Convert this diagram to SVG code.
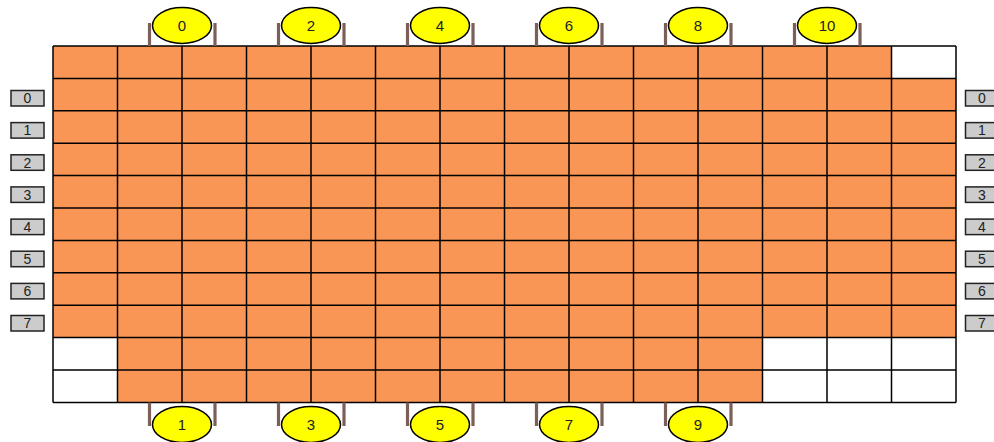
<svg xmlns="http://www.w3.org/2000/svg" width="994" height="442" viewBox="0 0 994 442">
<style>
.grid{stroke:#000;stroke-width:1.5;fill:none}
.seat{fill:#ffff00;stroke:#000;stroke-width:1.5}
.leg{stroke:#7d5f5a;stroke-width:3.2;fill:none}
.lbl{fill:#cccccc;stroke:#222;stroke-width:1.5}
text{font-family:"Liberation Sans",Arial,sans-serif;text-anchor:middle;fill:#222}
.st{font-size:15px}
.lt{font-size:14px}
</style>
<rect width="994" height="442" fill="#fff"/>
<g id="table">
<rect x="53" y="46" width="903" height="356.4" fill="#f99656"/>
<rect x="891.5" y="46" width="64.5" height="32.4" fill="#fff"/>
<rect x="53" y="337.6" width="64.5" height="64.8" fill="#fff"/>
<rect x="762.5" y="337.6" width="193.5" height="64.8" fill="#fff"/>
<path class="grid" d="M53 46V402.4M117.5 46V402.4M182 46V402.4M246.5 46V402.4M311 46V402.4M375.5 46V402.4M440 46V402.4M504.5 46V402.4M569 46V402.4M633.5 46V402.4M698 46V402.4M762.5 46V402.4M827 46V402.4M891.5 46V402.4M956 46V402.4M53 46H956M53 78.4H956M53 110.8H956M53 143.2H956M53 175.6H956M53 208H956M53 240.4H956M53 272.8H956M53 305.2H956M53 337.6H956M53 370H956M53 402.4H956"/>
</g>
<g id="seat-0"><path class="leg" d="M149.5 23V46M215 23V46"/><ellipse class="seat" cx="182" cy="25.5" rx="29.5" ry="18"/><text class="st" x="182" y="31">0</text></g>
<g id="seat-2"><path class="leg" d="M278.5 23V46M344 23V46"/><ellipse class="seat" cx="311" cy="25.5" rx="29.5" ry="18"/><text class="st" x="311" y="31">2</text></g>
<g id="seat-4"><path class="leg" d="M407.5 23V46M473 23V46"/><ellipse class="seat" cx="440" cy="25.5" rx="29.5" ry="18"/><text class="st" x="440" y="31">4</text></g>
<g id="seat-6"><path class="leg" d="M536.5 23V46M602 23V46"/><ellipse class="seat" cx="569" cy="25.5" rx="29.5" ry="18"/><text class="st" x="569" y="31">6</text></g>
<g id="seat-8"><path class="leg" d="M665.5 23V46M731 23V46"/><ellipse class="seat" cx="698" cy="25.5" rx="29.5" ry="18"/><text class="st" x="698" y="31">8</text></g>
<g id="seat-10"><path class="leg" d="M794.5 23V46M860 23V46"/><ellipse class="seat" cx="827" cy="25.5" rx="29.5" ry="18"/><text class="st" x="827" y="31">10</text></g>
<g id="seat-1"><path class="leg" d="M149.5 402.4V426M215 402.4V426"/><ellipse class="seat" cx="182" cy="424.5" rx="29.5" ry="18"/><text class="st" x="182" y="430">1</text></g>
<g id="seat-3"><path class="leg" d="M278.5 402.4V426M344 402.4V426"/><ellipse class="seat" cx="311" cy="424.5" rx="29.5" ry="18"/><text class="st" x="311" y="430">3</text></g>
<g id="seat-5"><path class="leg" d="M407.5 402.4V426M473 402.4V426"/><ellipse class="seat" cx="440" cy="424.5" rx="29.5" ry="18"/><text class="st" x="440" y="430">5</text></g>
<g id="seat-7"><path class="leg" d="M536.5 402.4V426M602 402.4V426"/><ellipse class="seat" cx="569" cy="424.5" rx="29.5" ry="18"/><text class="st" x="569" y="430">7</text></g>
<g id="seat-9"><path class="leg" d="M665.5 402.4V426M731 402.4V426"/><ellipse class="seat" cx="698" cy="424.5" rx="29.5" ry="18"/><text class="st" x="698" y="430">9</text></g>
<g id="left-0"><rect class="lbl" x="11" y="90.5" width="33" height="15.5"/><text class="lt" x="27.5" y="103.3">0</text></g>
<g id="left-1"><rect class="lbl" x="11" y="122.6" width="33" height="15.5"/><text class="lt" x="27.5" y="135.4">1</text></g>
<g id="left-2"><rect class="lbl" x="11" y="154.8" width="33" height="15.5"/><text class="lt" x="27.5" y="167.6">2</text></g>
<g id="left-3"><rect class="lbl" x="11" y="186.9" width="33" height="15.5"/><text class="lt" x="27.5" y="199.7">3</text></g>
<g id="left-4"><rect class="lbl" x="11" y="219.1" width="33" height="15.5"/><text class="lt" x="27.5" y="231.9">4</text></g>
<g id="left-5"><rect class="lbl" x="11" y="251.2" width="33" height="15.5"/><text class="lt" x="27.5" y="264">5</text></g>
<g id="left-6"><rect class="lbl" x="11" y="283.4" width="33" height="15.5"/><text class="lt" x="27.5" y="296.2">6</text></g>
<g id="left-7"><rect class="lbl" x="11" y="315.5" width="33" height="15.5"/><text class="lt" x="27.5" y="328.3">7</text></g>
<g id="right-0"><rect class="lbl" x="965.5" y="90.5" width="33" height="15.5"/><text class="lt" x="982" y="103.3">0</text></g>
<g id="right-1"><rect class="lbl" x="965.5" y="122.6" width="33" height="15.5"/><text class="lt" x="982" y="135.4">1</text></g>
<g id="right-2"><rect class="lbl" x="965.5" y="154.8" width="33" height="15.5"/><text class="lt" x="982" y="167.6">2</text></g>
<g id="right-3"><rect class="lbl" x="965.5" y="186.9" width="33" height="15.5"/><text class="lt" x="982" y="199.7">3</text></g>
<g id="right-4"><rect class="lbl" x="965.5" y="219.1" width="33" height="15.5"/><text class="lt" x="982" y="231.9">4</text></g>
<g id="right-5"><rect class="lbl" x="965.5" y="251.2" width="33" height="15.5"/><text class="lt" x="982" y="264">5</text></g>
<g id="right-6"><rect class="lbl" x="965.5" y="283.4" width="33" height="15.5"/><text class="lt" x="982" y="296.2">6</text></g>
<g id="right-7"><rect class="lbl" x="965.5" y="315.5" width="33" height="15.5"/><text class="lt" x="982" y="328.3">7</text></g>
<g id="connectors"/>
</svg>
